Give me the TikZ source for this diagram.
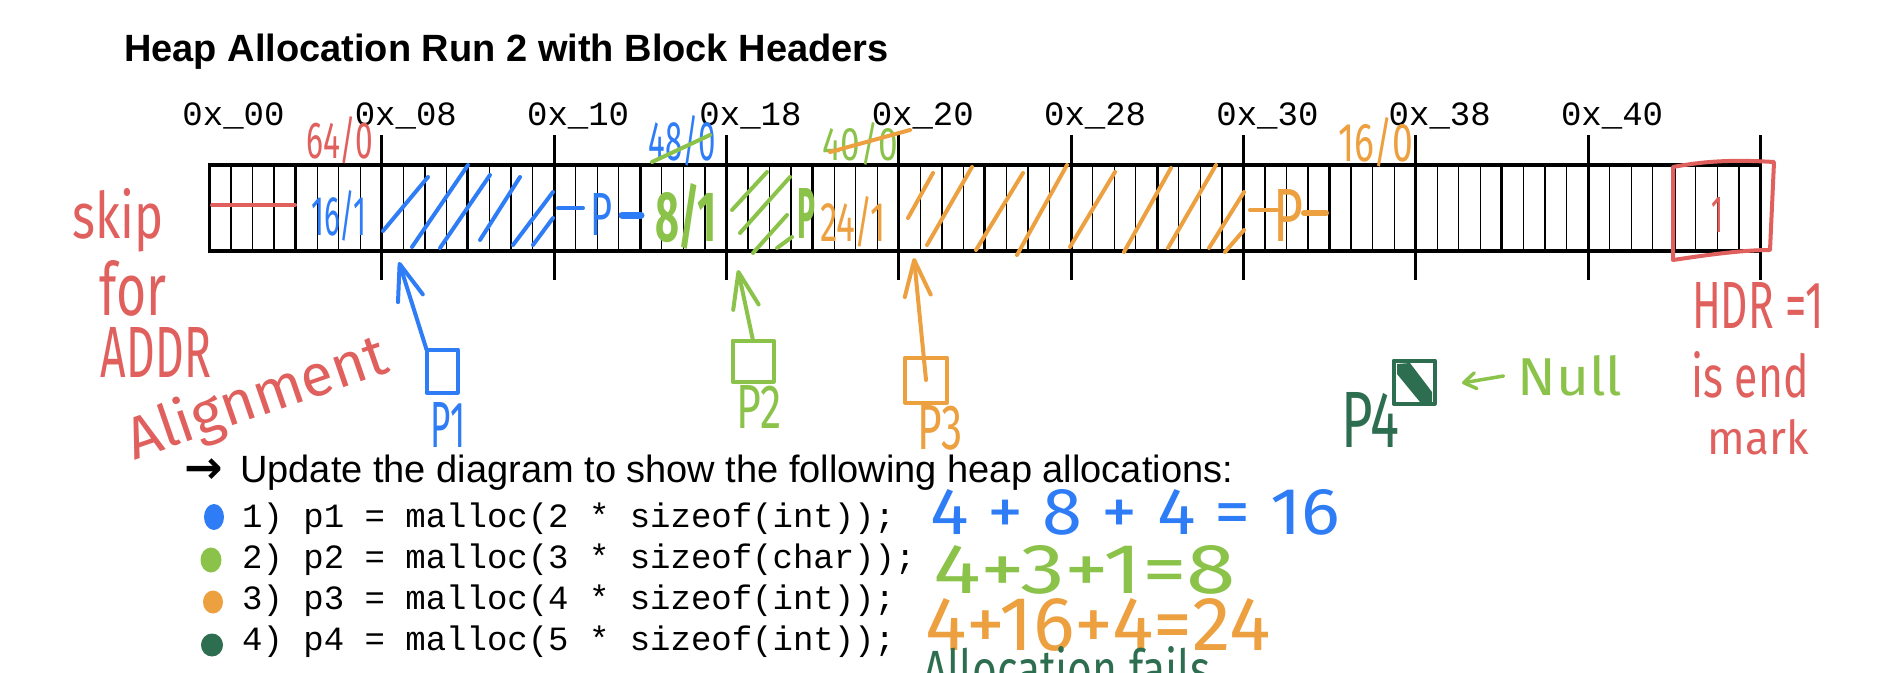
\documentclass[tikz,border=0pt]{standalone}
\usepackage{fontspec}
\usepackage{graphicx}
\setmainfont{Liberation Sans}
\newfontfamily\monofont{Liberation Mono}
\newfontfamily\handfont{Fira Sans}
\newfontfamily\symfont{DejaVu Sans}
\usetikzlibrary{arrows.meta}
\definecolor{hred}{HTML}{E0605E}
\definecolor{hblue}{HTML}{2F7DF6}
\definecolor{hgreen}{HTML}{8BC34A}
\definecolor{horange}{HTML}{ECA040}
\definecolor{hdark}{HTML}{2E6E50}
\newcommand{\hw}[3]{\resizebox{#1pt}{#2pt}{\handfont #3}}
\begin{document}
\begin{tikzpicture}[x=1pt,y=-1pt,
  hand/.style={inner sep=0pt,outer sep=0pt},
  stroke/.style={line width=4pt,line cap=round,line join=round},
  harrow/.style={stroke,-{Straight Barb[length=36pt,width=26pt,round]}},
  addr/.style={inner sep=0pt,font=\monofont\fontsize{34}{40}\selectfont},
  code/.style={inner sep=0pt,anchor=base west,font=\monofont\fontsize{34}{40}\selectfont},
  ptrbox/.style={stroke,inner sep=0pt,outer sep=0pt}]
\useasboundingbox (0,0) rectangle (1890,672);
\clip (0,0) rectangle (1890,672);

% title
\node[inner sep=0pt,anchor=base west,font=\bfseries\fontsize{38}{44}\selectfont] (title) at (124,61) {Heap Allocation Run 2 with Block Headers};

% address labels
\foreach \k/\t in {0/00,1/08,2/10,3/18,4/20,5/28,6/30,7/38,8/40}
  \node[addr] (a\k) at ({233.5+8*\k*21.54},116) {0x\_\t};

% ticks
\foreach \k in {1,...,9}
  \draw[line width=3pt] ({209.5+8*\k*21.54},135) -- ({209.5+8*\k*21.54},280);

% bar
\foreach \i in {1,...,71}
  \draw[line width=1.3pt] ({209.5+\i*21.54},165) -- ({209.5+\i*21.54},251);
\foreach \i in {4,8,...,68}
  \draw[line width=3pt] ({209.5+\i*21.54},165) -- ({209.5+\i*21.54},251);
\draw[line width=3.5pt] (209.5,165) rectangle (1760.4,251);

% skip bytes
\draw[hred,stroke] (212,205) -- (295,205);
\node[hand,text=hred] (h0) at (340,140) {\hw{67}{42}{64/0}};
\node[hand,text=hblue] (h1) at (339,216) {\hw{55}{45}{16/1}};

% blue block hatch
\foreach \a/\b/\c/\d in {383/231/428/177, 412/247/468/165, 440/248/490/175, 480/240/520/177, 513/245/553/192, 533/245/553/218}
  \draw[hblue,stroke] (\a,\b) -- (\c,\d);
\draw[hblue,stroke] (558,208) -- (583,208);
\node[hand,text=hblue] (pp1) at (601,214) {\hw{22}{42}{P}};
\draw[hblue,line width=7pt,line cap=round] (622,215) -- (641,215);

% p2 header
\node[hand,text=hblue] (h2old) at (682,141) {\hw{67}{45}{48/0}};
\draw[hgreen,stroke] (652,162) -- (710,135);
\node[hand,text=hgreen] (h2) at (686,216) {\hw{62}{58}{\bfseries 8/1}};
\foreach \a/\b/\c/\d in {732/210/767/172, 740/233/790/177, 753/253/787/215, 777/248/792/237}
  \draw[hgreen,stroke] (\a,\b) -- (\c,\d);
\node[hand,text=hgreen] (pp2) at (806,213) {\hw{18}{50}{\bfseries P}};

% p3 header
\node[hand,text=hgreen] (h3old) at (860,144) {\hw{76}{38}{40/0}};
\draw[horange,stroke] (830,152) -- (910,130);
\node[hand,text=horange] (h3) at (853,222) {\hw{66}{45}{24/1}};
\foreach \a/\b/\c/\d in {908/218/933/173, 927/245/972/167, 976/250/1023/173, 1017/255/1067/165, 1070/247/1115/172, 1124/252/1171/168, 1168/248/1216/165, 1209/248/1244/192, 1225/252/1244/230}
  \draw[horange,stroke] (\a,\b) -- (\c,\d);
\draw[horange,stroke] (1250,210) -- (1277,210);
\node[hand,text=horange] (pp3) at (1288,215) {\hw{30}{52}{P}};
\draw[horange,line width=6pt,line cap=round] (1304,213) -- (1326,213);
\node[hand,text=horange] (h4) at (1376,142) {\hw{75}{44}{16/0}};

% end mark
\draw[hred,stroke] (1673,167) .. controls (1710,160) and (1740,160) .. (1774,162) -- (1770,250)
  .. controls (1740,250) and (1700,256) .. (1673,260) -- cycle;
\node[hand,text=hred] (endone) at (1717,215) {\hw{12}{35}{1}};

% pointers
\coordinate (t1) at (399,262);
\coordinate (t2) at (738,270);
\coordinate (t3) at (914,258);
\node[ptrbox,draw=hblue,minimum width=31pt,minimum height=43pt] (b1) at (442,371) {};
\node[ptrbox,draw=hgreen,minimum width=41pt,minimum height=41pt] (b2) at (753,361) {};
\node[ptrbox,draw=horange,minimum width=42pt,minimum height=45pt] (b3) at (926,380) {};
\draw[hblue,harrow] (b1.north west) -- (t1);
\draw[hgreen,harrow] (b2.north) -- (t2);
\draw[horange,harrow] (b3.center) -- (t3);
\node[hand,text=hblue] (l1) at (448,425) {\hw{35}{45}{P1}};
\node[hand,text=hgreen] (l2) at (759,407) {\hw{45}{43}{P2}};
\node[hand,text=horange] (l3) at (940,428) {\hw{45}{44}{P3}};

% p4
\node[ptrbox,draw=hdark,minimum width=41pt,minimum height=43pt] (b4) at (1414,382) {};
\fill[hdark] (1397,364) -- (1410,363) -- (1432,392) -- (1432,402) -- (1420,402) -- (1397,374) -- cycle;
\node[hand,text=hdark] (l4) at (1370,420) {\hw{58}{55}{P4}};
\node[hand,text=hgreen] (null) at (1570,376) {\hw{105}{40}{Null}};
\coordinate (nt) at (1462,383);
\draw[hgreen,line width=3.5pt,line cap=round,-{Straight Barb[length=12pt,width=16pt,round]}] ([xshift=-14pt]null.west) -- (nt);

% right notes
\node[hand,text=hred] (hdr) at (1758,305) {\hw{132}{46}{HDR =1}};
\node[hand,text=hred] (isend) at (1750,375) {\hw{117}{46}{is end}};
\node[hand,text=hred] (mark) at (1758,437) {\hw{101}{35}{mark}};

% left notes
\node[hand,text=hred] (skip) at (118,220) {\hw{91}{50}{skip}};
\node[hand,text=hred] (for) at (133,288) {\hw{67}{55}{for}};
\node[hand,text=hred] (addrn) at (156,352) {\hw{110}{50}{ADDR}};
\node[hand,text=hred,anchor=base west,rotate=19] (align) at (134,460) {\hw{272}{46}{Alignment}};

% task text
\node[inner sep=0pt,anchor=base west,font=\symfont\bfseries\fontsize{46}{50}\selectfont] (arr) at (184,483) {→};
\node[inner sep=0pt,anchor=base west,font=\fontsize{38}{44}\selectfont] (task) at (240,482) {Update the diagram to show the following heap allocations:};
\fill[hblue] (214,517) ellipse (10pt and 13pt);
\fill[hgreen] (211,560) ellipse (10.5pt and 12.5pt);
\fill[horange] (213,602) ellipse (10pt and 11.5pt);
\fill[hdark] (212,645) ellipse (11pt and 11.5pt);
\node[code] (c1) at (242,527) {1) p1 = malloc(2 * sizeof(int));};
\node[code] (c2) at (242,568) {2) p2 = malloc(3 * sizeof(char));};
\node[code] (c3) at (242,609) {3) p3 = malloc(4 * sizeof(int));};
\node[code] (c4) at (242,650) {4) p4 = malloc(5 * sizeof(int));};

% sums
\node[hand,text=hblue] (s1) at (1135,512) {\hw{410}{45}{4 + 8 + 4 = 16}};
\node[hand,text=hgreen] (s2) at (1085,570) {\hw{302}{48}{4+3+1=8}};
\node[hand,text=horange] (s3) at (1098,625) {\hw{345}{52}{4+16+4=24}};
\node[hand,text=hdark,anchor=north west] (s4) at (923,646) {\hw{287}{42}{Allocation fails}};
\end{tikzpicture}
\end{document}
